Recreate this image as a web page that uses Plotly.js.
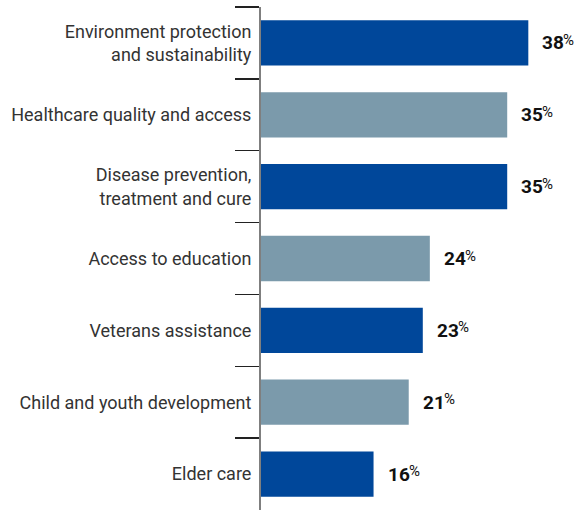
<!DOCTYPE html>
<html><head><meta charset="utf-8">
<script src="https://cdn.plot.ly/plotly-3.0.1.min.js"></script>
<style>html,body{margin:0;padding:0;background:#fff}</style>
</head><body><div id="chart" style="width:586px;height:510px"></div>
<script>
const categories = [
  "Environment protection<br>and sustainability",
  "Healthcare quality and access",
  "Disease prevention,<br>treatment and cure",
  "Access to education",
  "Veterans assistance",
  "Child and youth development",
  "Elder care"
];
const values = [38, 35, 35, 24, 23, 21, 16];
const DARK = "#00479a", LIGHT = "#7b9aab";
const barColors = categories.map((c, i) => i % 2 === 0 ? DARK : LIGHT);

const trace = {
  type: "bar", orientation: "h",
  x: values, y: categories,
  marker: {color: barColors},
  width: 0.63,
  hoverinfo: "skip"
};
const annotations = [];
values.forEach((v, i) => {
  annotations.push({
    x: v, y: categories[i], xref: "x", yref: "y",
    text: "<b>" + v + "</b>",
    showarrow: false, xanchor: "left", xshift: 12, yshift: 0,
    font: {family: "Roboto, sans-serif", size: 19, color: "#111"}
  });
  annotations.push({
    x: v, y: categories[i], xref: "x", yref: "y",
    text: "%",
    showarrow: false, xanchor: "left", xshift: 33, yshift: 3,
    font: {family: "Roboto, sans-serif", size: 15, color: "#111"}
  });
});
const layout = {
  width: 586, height: 510,
  margin: {l: 261, r: 0, t: 7, b: 0, pad: 0},
  paper_bgcolor: "#fff", plot_bgcolor: "#fff",
  showlegend: false,
  bargap: 0.37,
  xaxis: {range: [0, 46.2], visible: false, fixedrange: true},
  yaxis: {
    type: "category", autorange: "reversed",
    showline: true, linecolor: "#7f7f7f", linewidth: 2,
    ticks: "outside", tickson: "boundaries", ticklen: 24, tickwidth: 1.3, tickcolor: "#222",
    ticklabelstandoff: 4,
    tickfont: {family: "Roboto, sans-serif", size: 18, color: "#333"},
    showgrid: false, zeroline: false, automargin: false
  },
  annotations: annotations
};
Plotly.newPlot("chart", [trace], layout, {displayModeBar: false, staticPlot: true});
</script></body></html>
